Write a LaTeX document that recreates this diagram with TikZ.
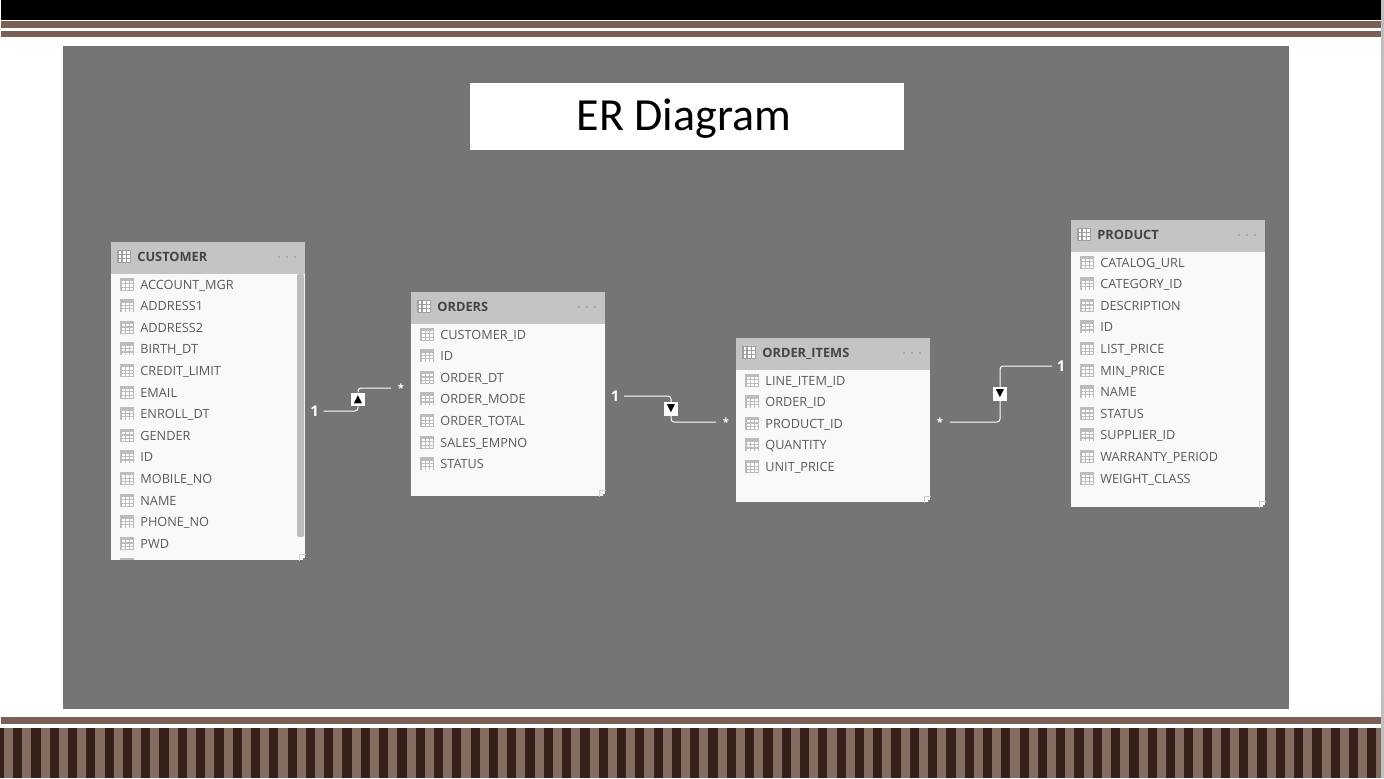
\documentclass[tikz,border=0pt]{standalone}
\usepackage{fontspec}
\setmainfont{Open Sans}
\newfontfamily\titlefont{Carlito}
\newfontfamily\symbfont{DejaVu Sans}
\usetikzlibrary{positioning, calc}

\definecolor{panelgray}{HTML}{757575}
\definecolor{headgray}{HTML}{C4C4C4}
\definecolor{bodygray}{HTML}{F9F9F9}
\definecolor{icongray}{HTML}{BCBCBC}
\definecolor{fieldtext}{HTML}{5A5A5A}
\definecolor{headtext}{HTML}{444444}
\definecolor{brownbar}{HTML}{7A6055}
\definecolor{stripelight}{HTML}{846C61}
\definecolor{stripedark}{HTML}{35201A}

\tikzset{
	table_body/.style={rectangle, fill=bodygray, draw=none, anchor=north west, inner sep=0, minimum width=97pt},
	table_head/.style={rectangle, fill=headgray, draw=none, anchor=north west, inner sep=0, minimum width=97pt, minimum height=16pt},
	head_label/.style={anchor=west, inner sep=0, text=headtext, text height=6pt, text depth=1pt, font=\fontsize{6.4}{7}\selectfont\bfseries},
	field_label/.style={anchor=west, inner sep=0, text=fieldtext, text height=6pt, text depth=1pt, font=\fontsize{6.35}{7}\selectfont},
	rel_line/.style={draw=white, line width=0.5pt, rounded corners=1.5pt},
	rel_end/.style={inner sep=0, outer sep=2.5pt, text=white, font=\fontsize{7.4}{8}\selectfont\bfseries},
	rel_many/.style={rel_end, outer sep=3.5pt, font=\fontsize{5.6}{6}\selectfont\bfseries},
	rel_mark/.style={rectangle, fill=white, inner sep=0, minimum size=6.8pt, text=black, font=\symbfont\fontsize{5.4}{5.4}\selectfont},
	pics/fieldicon/.style={code={
		\fill[icongray] (0,-6.5) rectangle (14,6.5);
		\foreach \cx in {2,6,10} {
			\foreach \cy in {-2,1.4,4.8} {
				\fill[white] (\cx,\cy-1.1) rectangle ++(2.6,2.2);
			}
		}
	}},
	pics/headicon/.style={code={
		\fill[icongray!85!black] (0,-6.5) rectangle (14,6.5);
		\foreach \cx in {1.5,5.8,10} {
			\foreach \cy in {-4.3,0,4.3} {
				\fill[white] (\cx,\cy-1.5) rectangle ++(2.8,3);
			}
		}
	}}
}

% one table: id, title, left, top, height, fields
\newcommand{\ertable}[6]{
	\node[table_body, minimum height=#5*0.5pt] (#1) at (#3,#4) {};
	\node[table_head] (#1_head) at (#1.north west) {};
	\pic at ($(#1_head.west)+(6,-2)$) {headicon};
	\node[head_label] (#1_title) at ($(#1_head.west)+(26,-2)$) {#2};
	\node[inner sep=0, text=gray, font=\fontsize{6}{7}\selectfont, anchor=east] (#1_dots) at ($(#1_head.east)+(-8,-1)$) {$\cdot\cdot\cdot$};
	\foreach \f [count=\i from 0] in {#6} {
		\pic at ($(#1.north west)+(9,42+\i*21.6)$) {fieldicon};
		\node[field_label] (#1_\i) at ($(#1.north west)+(29,42+\i*21.6)$) {\f};
	};
	\draw[gray!40, line width=0.3pt] ($(#1.south east)+(-7,0)$) |- ($(#1.south east)+(0,-7)$);
	\fill[gray] ($(#1.south east)+(-3,-1)$) rectangle ++(2,-2);
}

\begin{document}
\begin{tikzpicture}[x=0.5pt, y=-0.5pt]
	\useasboundingbox (0,0) rectangle (1384,778);
	\fill[white] (0,0) rectangle (1384,778);

	% Bars
	\fill[black] (1,0) rectangle (1381,20);
	\fill[brownbar] (1,21) rectangle (1381,27.5);
	\fill[brownbar] (1,31) rectangle (1381,37);
	\fill[brownbar] (1,716.5) rectangle (1381,724);
	\fill[stripelight] (0,727.5) rectangle (1381,778);
	\foreach \k in {-1,0,...,74} {
		\fill[stripedark] (13+\k*18.3,727.5) rectangle ++(9.2,50.5);
	};
	\fill[gray!50] (1381,0) rectangle (1384,778);

	% Panel and title
	\fill[panelgray] (62.5,46) rectangle (1289,709);
	\node[rectangle, fill=white, minimum width=217pt, minimum height=33.5pt, inner sep=0, text height=17pt, text depth=3.5pt, font=\titlefont\fontsize{23}{26}\selectfont] (title) at (687,116.5) {\hspace{-3pt}ER Diagram};

	% Tables
	\ertable{customer}{CUSTOMER}{111}{242}{318}{ACCOUNT\_MGR,ADDRESS1,ADDRESS2,BIRTH\_DT,CREDIT\_LIMIT,EMAIL,ENROLL\_DT,GENDER,ID,MOBILE\_NO,NAME,PHONE\_NO,PWD}
	\ertable{orders}{ORDERS}{411}{292}{204}{CUSTOMER\_ID,ID,ORDER\_DT,ORDER\_MODE,ORDER\_TOTAL,SALES\_EMPNO,STATUS}
	\ertable{items}{ORDER\_ITEMS}{736}{338}{164}{LINE\_ITEM\_ID,ORDER\_ID,PRODUCT\_ID,QUANTITY,UNIT\_PRICE}
	\ertable{product}{PRODUCT}{1071}{220}{287}{CATALOG\_URL,CATEGORY\_ID,DESCRIPTION,ID,LIST\_PRICE,MIN\_PRICE,NAME,STATUS,SUPPLIER\_ID,WARRANTY\_PERIOD,WEIGHT\_CLASS}

	% Scrollbar
	\fill[icongray, rounded corners=1pt] (297,274) rectangle (304,537);
	\fill[icongray] (120,558) rectangle (134,560);

	% Relations
	\node[rel_end] (one_a) at (314.5,411) {1};
	\node[rel_many] (many_a) at (401,388) {\raisebox{-0.28em}{*}};
	\node[rel_mark] (mark_a) at (358,399.5) {▲};
	\draw[rel_line] (one_a.east) -| (mark_a.south);
	\draw[rel_line] (mark_a.north) |- (many_a.west);

	\node[rel_end] (one_b) at (615,396) {1};
	\node[rel_many] (many_b) at (726,422) {\raisebox{-0.28em}{*}};
	\node[rel_mark] (mark_b) at (671,409) {▼};
	\draw[rel_line] (one_b.east) -| (mark_b.north);
	\draw[rel_line] (mark_b.south) |- (many_b.west);

	\node[rel_many] (many_c) at (940,422) {\raisebox{-0.28em}{*}};
	\node[rel_end] (one_c) at (1061,366) {1};
	\node[rel_mark] (mark_c) at (1000,394) {▼};
	\draw[rel_line] (many_c.east) -| (mark_c.south);
	\draw[rel_line] (mark_c.north) |- (one_c.west);
\end{tikzpicture}
\end{document}
